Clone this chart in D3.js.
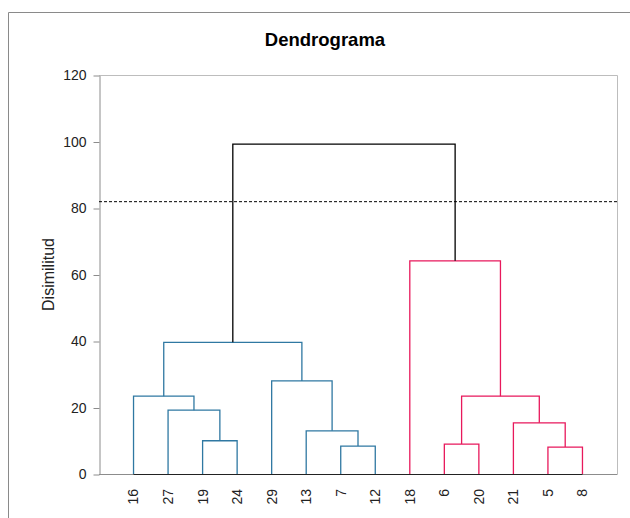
<!DOCTYPE html>
<html>
<head>
<meta charset="utf-8">
<script src="https://cdn.jsdelivr.net/npm/d3@7"></script>
<style>
  html, body { margin: 0; padding: 0; background: #fff; }
  svg { display: block; font-family: "Liberation Sans", Arial, sans-serif; }
</style>
</head>
<body>
<svg id="chart" width="630" height="518"></svg>
<script>
// Leaf labels in display order (index = leaf id 0..13)
const leafLabels = ["16", "27", "19", "24", "29", "13", "7", "12", "18", "6", "20", "21", "5", "8"];

// Agglomeration steps: node ids 14.. are created in this order
const mergeLeft   = [2, 1, 0, 6, 5, 4, 16, 9, 12, 11, 21, 8, 20];
const mergeRight  = [3, 14, 15, 7, 17, 18, 19, 10, 13, 22, 23, 24, 25];
const mergeHeight = [10.0, 19.2, 23.4, 8.4, 13.0, 28.0, 39.6, 9.0, 8.1, 15.4, 23.4, 64.1, 99.2];
// Cluster of each merge: 0 = first class, 1 = second class, -1 = above the cut
const mergeGroup  = [0, 0, 0, 0, 0, 0, 0, 1, 1, 1, 1, 1, -1];

const cutLevel = 81.9;
const yTicks = [0, 20, 40, 60, 80, 100, 120];
const groupColors = { "0": "#2f78a2", "1": "#e8195c", "-1": "#000000" };

const W = 630, H = 518;
const plot = { left: 99, right: 617, top: 75, bottom: 474 };

const svg = d3.select("#chart");

// Outer chart frame
svg.append("path")
  .attr("d", `M8.5,${H} V12.5 H${W}`)
  .attr("fill", "none")
  .attr("stroke", "#8a8a8a")
  .attr("stroke-width", 1);

// Title
svg.append("text")
  .attr("x", 325).attr("y", 46)
  .attr("text-anchor", "middle")
  .attr("font-size", "18.5px")
  .attr("font-weight", "bold")
  .attr("fill", "#000")
  .text("Dendrograma");

const x = d3.scalePoint()
  .domain(d3.range(leafLabels.length))
  .range([plot.left, plot.right])
  .padding(1);

const y = d3.scaleLinear()
  .domain([0, 120])
  .range([plot.bottom, plot.top]);

// Plot area border (top and right)
svg.append("path")
  .attr("d", `M${plot.left},${plot.top + 0.5} H${plot.right + 0.5} V${plot.bottom}`)
  .attr("fill", "none")
  .attr("stroke", "#bdbdbd")
  .attr("stroke-width", 1);

// Bottom axis line
svg.append("line")
  .attr("x1", plot.left).attr("x2", plot.right + 0.5)
  .attr("y1", plot.bottom + 0.5).attr("y2", plot.bottom + 0.5)
  .attr("stroke", "#8c8c8c");

// Left axis
const yAxis = svg.append("g")
  .attr("transform", `translate(${plot.left + 0.5},0.5)`)
  .call(d3.axisLeft(y).tickValues(yTicks).tickSize(6).tickPadding(7).tickSizeOuter(0));
yAxis.select(".domain").attr("stroke", "#8c8c8c");
yAxis.selectAll(".tick line").attr("stroke", "#8c8c8c");
yAxis.selectAll(".tick text")
  .attr("font-size", "14px")
  .attr("font-family", "'Liberation Sans', Arial, sans-serif")
  .attr("fill", "#222");

// Y axis title
svg.append("text")
  .attr("transform", `translate(54,${(plot.top + plot.bottom) / 2}) rotate(-90)`)
  .attr("text-anchor", "middle")
  .attr("font-size", "16px")
  .attr("fill", "#222")
  .text("Disimilitud");

// Build node positions from the merge table
const n = leafLabels.length;
const nodeX = leafLabels.map((_, i) => x(i));
const nodeH = leafLabels.map(() => 0);
const links = [];
mergeLeft.forEach((l, k) => {
  const r = mergeRight[k];
  const h = mergeHeight[k];
  nodeX.push((nodeX[l] + nodeX[r]) / 2);
  nodeH.push(h);
  links.push({ l, r, h, group: mergeGroup[k] });
});

// Baseline joining the leaves
svg.append("line")
  .attr("x1", x(0)).attr("x2", x(n - 1))
  .attr("y1", y(0) + 0.5).attr("y2", y(0) + 0.5)
  .attr("stroke", "#222")
  .attr("stroke-width", 1.2);

// Cut level
svg.append("line")
  .attr("x1", plot.left).attr("x2", plot.right)
  .attr("y1", y(cutLevel)).attr("y2", y(cutLevel))
  .attr("stroke", "#000")
  .attr("stroke-width", 1)
  .attr("stroke-dasharray", "3,2");

// Dendrogram links: one bracket per merge
svg.append("g")
  .selectAll("path")
  .data(links)
  .join("path")
  .attr("d", d => {
    const xl = nodeX[d.l], xr = nodeX[d.r];
    return `M${xl},${y(nodeH[d.l])} V${y(d.h)} H${xr} V${y(nodeH[d.r])}`;
  })
  .attr("fill", "none")
  .attr("stroke", d => groupColors[String(d.group)])
  .attr("stroke-width", 1.3);

// Leaf labels, rotated
svg.append("g")
  .selectAll("text")
  .data(leafLabels)
  .join("text")
  .attr("transform", (d, i) => `translate(${x(i)},489) rotate(-90)`)
  .attr("dy", "0.35em")
  .attr("text-anchor", "end")
  .attr("font-size", "14px")
  .attr("fill", "#222")
  .text(d => d);
</script>
</body>
</html>
